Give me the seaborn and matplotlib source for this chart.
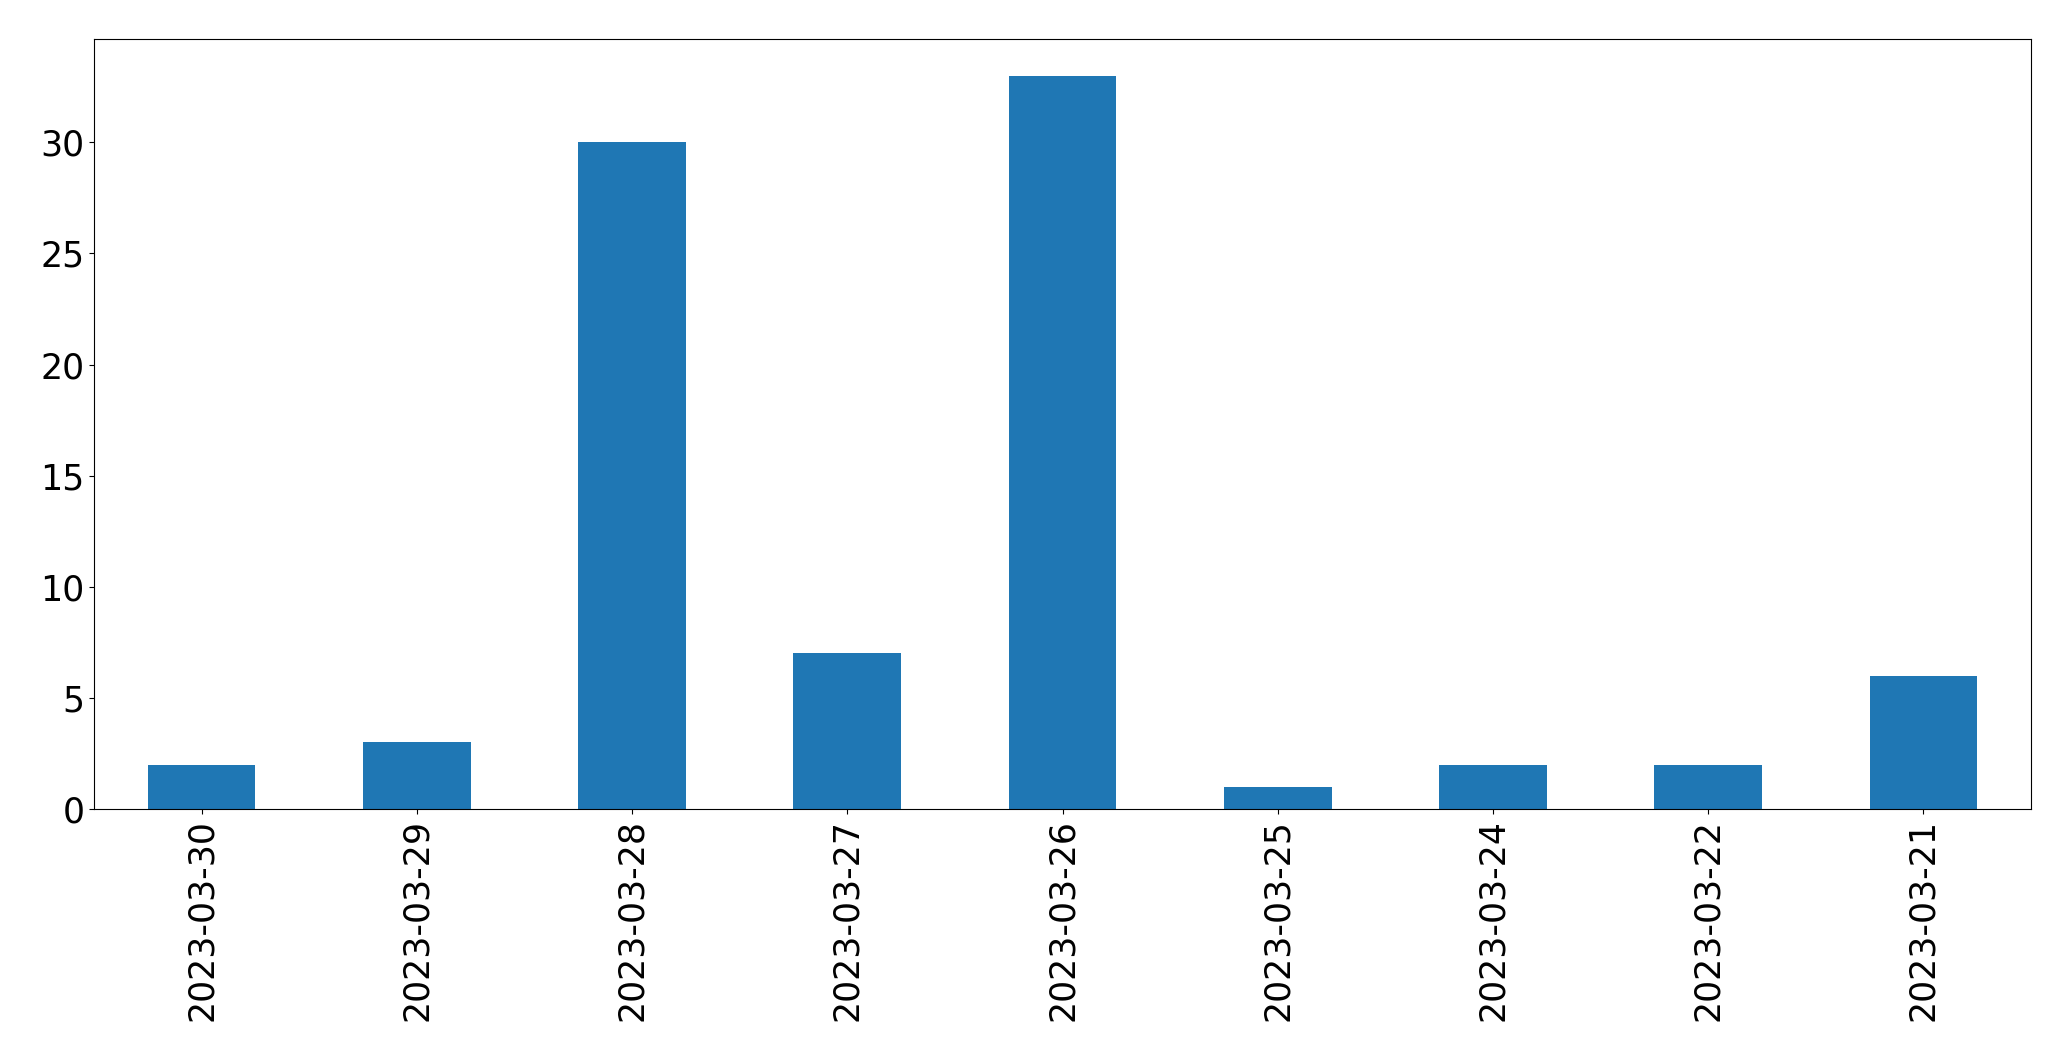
import matplotlib
matplotlib.use("Agg")
import matplotlib.pyplot as plt
import seaborn as sns
import pandas as pd

dates = ["2023-03-30", "2023-03-29", "2023-03-28", "2023-03-27", "2023-03-26",
         "2023-03-25", "2023-03-24", "2023-03-22", "2023-03-21"]
counts = [2, 3, 30, 7, 33, 1, 2, 2, 6]

df = pd.DataFrame({"date": dates, "count": counts})

fig = plt.figure(figsize=(20.71, 10.61), dpi=100)
ax = fig.add_axes([94/2071, 1 - 809/1061, (2031-94)/2071, (809-39)/1061])
sns.barplot(data=df, x="date", y="count", order=dates, color="#1f77b4",
            saturation=1, width=0.5, linewidth=0, ax=ax)
ax.set_xlim(-0.5, len(dates) - 0.5)
ax.set_ylim(0, max(counts) * 1.05)
ax.set_xlabel("")
ax.set_ylabel("")
ax.tick_params(axis="both", labelsize=25)
ax.tick_params(axis="x", labelrotation=90)
for s in ax.spines.values():
    s.set_visible(True)
    s.set_color("black")
fig.savefig("out.png", dpi=100)
